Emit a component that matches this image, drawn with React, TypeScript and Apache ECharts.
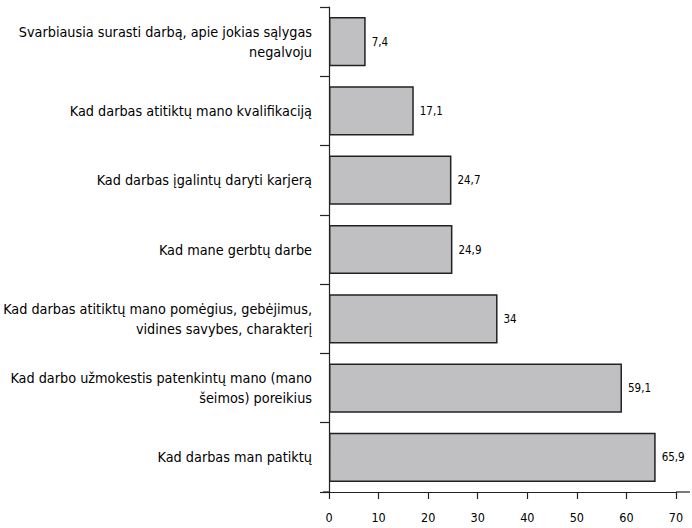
import React, { useEffect, useRef } from "react";
import * as echarts from "echarts";

const categories = [
  "Svarbiausia surasti darbą, apie jokias sąlygas\nnegalvoju",
  "Kad darbas atitiktų mano kvalifikaciją",
  "Kad darbas įgalintų daryti karjerą",
  "Kad mane gerbtų darbe",
  "Kad darbas atitiktų mano pomėgius, gebėjimus,\nvidines savybes, charakterį",
  "Kad darbo užmokestis patenkintų mano (mano\nšeimos) poreikius",
  "Kad darbas man patiktų",
];
const values = [7.4, 17.1, 24.7, 24.9, 34, 59.1, 65.9];
const xMin = 0;
const xMax = 70;
const xInterval = 10;

const FONT = "'Liberation Sans Narrow', 'DejaVu Sans Condensed', sans-serif";

export default function App() {
  const ref = useRef<HTMLDivElement>(null);
  useEffect(() => {
    document.body.style.margin = "0";
    if (!ref.current) return;
    const chart = echarts.init(ref.current, null, { renderer: "svg" });
    chart.setOption({
      animation: false,
      backgroundColor: "#ffffff",
      grid: { left: 329, right: 16, top: 7, bottom: 36, containLabel: false, outerBoundsMode: "none" },
      xAxis: {
        type: "value",
        min: xMin,
        max: xMax,
        interval: xInterval,
        splitLine: { show: false },
        axisLine: { show: true, lineStyle: { color: "#222", width: 1.2 } },
        axisTick: { show: true, length: 7, lineStyle: { color: "#222", width: 1.2 } },
        axisLabel: { color: "#000", fontSize: 12.5, fontFamily: FONT, margin: 19 },
      },
      yAxis: {
        type: "category",
        data: categories,
        inverse: true,
        axisLine: { show: true, lineStyle: { color: "#222", width: 1.2 } },
        axisTick: { show: true, length: 9, lineStyle: { color: "#222", width: 1.2 } },
        axisLabel: {
          color: "#000",
          fontSize: 14.3,
          fontFamily: FONT,
          margin: 17,
          align: "right",
          lineHeight: 20,
        },
      },
      series: [
        {
          type: "bar",
          data: values,
          barCategoryGap: "29%",
          itemStyle: { color: "#c0c0c3", borderColor: "#222", borderWidth: 1.5 },
          label: {
            show: true,
            position: "right",
            distance: 6,
            color: "#000",
            fontSize: 11.5,
            fontFamily: FONT,
            formatter: (p: any) => String(p.value).replace(".", ","),
          },
        },
      ],
    });
    const pMax = chart.convertToPixel({ xAxisIndex: 0 }, xMax) as number;
    const pMin = chart.convertToPixel({ xAxisIndex: 0 }, xMin) as number;
    const axisY = 528 - 36;
    chart.setOption({
      graphic: [
        {
          type: "line",
          shape: { x1: pMin - 6, y1: axisY, x2: pMin, y2: axisY },
          style: { stroke: "#222", lineWidth: 1.2 },
          silent: true,
        },
        {
          type: "line",
          shape: { x1: pMax, y1: axisY, x2: 690, y2: axisY },
          style: { stroke: "#222", lineWidth: 1.2 },
          silent: true,
        },
      ],
    });
    return () => chart.dispose();
  }, []);
  return <div ref={ref} style={{ width: 692, height: 528 }} />;
}
